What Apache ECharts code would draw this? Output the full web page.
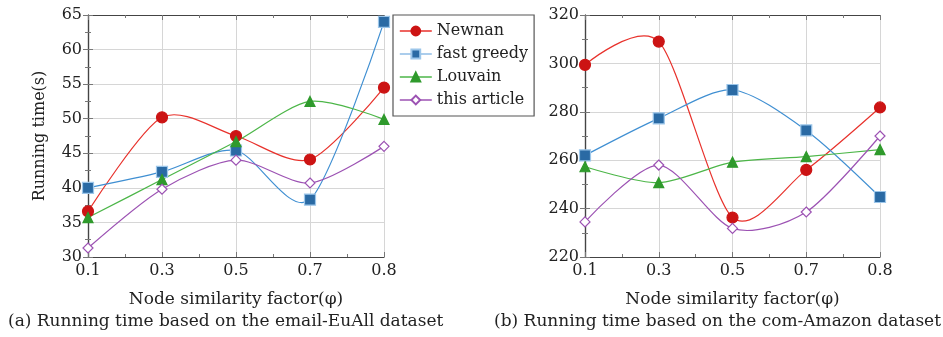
<!DOCTYPE html>
<html>
<head>
<meta charset="utf-8">
<script src="https://cdn.jsdelivr.net/npm/echarts@6/dist/echarts.min.js"></script>
<style>
html,body{margin:0;padding:0;background:#fff;}
#chart{width:943px;height:337px;}
</style>
</head>
<body>
<div id="chart"></div>
<script>
// ---- data ----
const xLabels = ['0.1', '0.3', '0.5', '0.7', '0.8'];
const seriesNames = ['Newnan', 'fast greedy', 'Louvain', 'this article'];

// (a) email-EuAll
const emailNewnan = [36.6, 50.2, 47.5, 44.1, 54.5];
const emailFastGreedy = [40.0, 42.3, 45.4, 38.3, 64.0];
const emailLouvain = [35.7, 41.2, 46.7, 52.5, 49.9];
const emailThisArticle = [31.3, 39.8, 44.0, 40.7, 46.0];

// (b) com-Amazon
const amazonNewnan = [299.4, 309.0, 236.3, 256.0, 281.8];
const amazonFastGreedy = [262.0, 277.3, 289.0, 272.3, 244.8];
const amazonLouvain = [257.3, 250.7, 259.2, 261.5, 264.4];
const amazonThisArticle = [234.5, 258.0, 231.8, 238.6, 270.0];

const yTicksA = [30, 35, 40, 45, 50, 55, 60, 65];
const yTicksB = [220, 240, 260, 280, 300, 320];

const captionA = '(a) Running time based on the email-EuAll dataset';
const captionB = '(b) Running time based on the com-Amazon dataset';
const xName = 'Node similarity factor(\u03C6)';
const yName = 'Running time(s)';

// ---- styles ----
const FONT = 'DejaVu Serif';
const FS = 16;
const TENSION = 0.1375;
const styles = [
  {line: '#e8312b', legendLine: '#e8312b', fill: '#cc1414', border: '#cc1414', symbol: 'circle', size: 11},
  {line: '#3f8fd2', legendLine: '#8fbde6', fill: '#2a6aa4', border: '#9cc6ea', symbol: 'rect', size: 11},
  {line: '#4cb648', legendLine: '#4cb648', fill: '#2f9a2c', border: '#2f9a2c', symbol: 'triangle', size: 10},
  {line: '#9c52b3', legendLine: '#9c52b3', fill: '#ffffff', border: '#9c52b3', symbol: 'diamond', size: 10}
];

function pairs(arr) { return arr.map((v, i) => [i, v]); }

// smooth curve (TikZ-like) drawn through library coordinates
function mkCurve(name, arr, k, xi, yi) {
  const s = styles[k];
  return {
    name: name + ' curve', type: 'custom', data: pairs(arr), xAxisIndex: xi, yAxisIndex: yi,
    z: 2, silent: true,
    renderItem: function (params, api) {
      const i = params.dataIndex;
      const n = arr.length;
      if (i >= n - 1) return null;
      const P = arr.map((v, j) => api.coord([j, v]));
      const p0 = P[i], p1 = P[i + 1];
      let c1 = p0.slice(), c2 = p1.slice();
      if (i > 0) {
        c1 = [p0[0] + TENSION * (P[i + 1][0] - P[i - 1][0]), p0[1] + TENSION * (P[i + 1][1] - P[i - 1][1])];
      }
      if (i + 2 < n) {
        c2 = [p1[0] - TENSION * (P[i + 2][0] - P[i][0]), p1[1] - TENSION * (P[i + 2][1] - P[i][1])];
      }
      return {
        type: 'bezierCurve',
        shape: {x1: p0[0], y1: p0[1], x2: p1[0], y2: p1[1], cpx1: c1[0], cpy1: c1[1], cpx2: c2[0], cpy2: c2[1]},
        style: {stroke: s.line, lineWidth: 1.2, fill: null}
      };
    }
  };
}

function mkMarkers(name, arr, k, xi, yi) {
  const s = styles[k];
  return {
    name: name, type: 'line', data: pairs(arr), xAxisIndex: xi, yAxisIndex: yi,
    symbol: s.symbol, symbolSize: s.size, showSymbol: true,
    lineStyle: {color: s.line, width: 1.2, opacity: 0},
    itemStyle: {color: s.fill, borderColor: s.border, borderWidth: 1.2},
    z: 5 + k
  };
}

const axisLineStyle = {show: true, lineStyle: {color: '#444', width: 1.2}};
const tickStyle = {show: true, inside: true, length: 5, lineStyle: {color: '#777'}};
const minorStyle = {show: true, splitNumber: 2, length: 3, lineStyle: {color: '#777'}};

function xAxes(gi) {
  return [
    {
      gridIndex: gi, type: 'value', min: 0, max: xLabels.length - 1, interval: 1,
      position: 'bottom',
      axisLine: axisLineStyle, axisTick: tickStyle, minorTick: minorStyle,
      splitLine: {show: true, lineStyle: {color: '#d6d6d6', width: 1}},
      axisLabel: {formatter: v => xLabels[v] || '', fontFamily: FONT, fontSize: FS, color: '#222', margin: 6},
      name: xName, nameLocation: 'middle', nameGap: 34,
      nameTextStyle: {fontFamily: FONT, fontSize: 17, color: '#222'}
    },
    {
      gridIndex: gi, type: 'value', min: 0, max: xLabels.length - 1, interval: 1,
      position: 'top',
      axisLine: axisLineStyle, axisTick: tickStyle, minorTick: minorStyle,
      splitLine: {show: false}, axisLabel: {show: false}
    }
  ];
}

function yAxes(gi, ticks, withName) {
  const min = ticks[0], max = ticks[ticks.length - 1], iv = ticks[1] - ticks[0];
  const left = {
    gridIndex: gi, type: 'value', min: min, max: max, interval: iv, position: 'left',
    axisLine: axisLineStyle, axisTick: tickStyle, minorTick: minorStyle,
    splitLine: {show: true, lineStyle: {color: '#d6d6d6', width: 1}},
    axisLabel: {fontFamily: FONT, fontSize: FS, color: '#222', margin: 6}
  };
  if (withName) {
    left.name = yName; left.nameLocation = 'middle'; left.nameGap = 40; left.nameRotate = 90;
    left.nameTextStyle = {fontFamily: FONT, fontSize: FS, color: '#222'};
  }
  return [left, {
    gridIndex: gi, type: 'value', min: min, max: max, interval: iv, position: 'right',
    axisLine: axisLineStyle, axisTick: tickStyle, minorTick: minorStyle,
    splitLine: {show: false}, axisLabel: {show: false}
  }];
}

const chart = echarts.init(document.getElementById('chart'), null, {renderer: 'canvas'});
const option = {
  animation: false,
  backgroundColor: '#fff',
  grid: [
    {left: 88, top: 15, width: 296, height: 242},
    {left: 585, top: 15, width: 295, height: 242}
  ],
  xAxis: [...xAxes(0), ...xAxes(1)],
  yAxis: [...yAxes(0, yTicksA, true), ...yAxes(1, yTicksB, false)],
  legend: {
    data: seriesNames.map((n, k) => ({
      name: n,
      lineStyle: {color: styles[k].legendLine, width: 1.6, opacity: 1}
    })),
    orient: 'vertical', left: 393, top: 15,
    itemWidth: 32, itemHeight: 11, itemGap: 5,
    padding: [7, 6, 7, 6],
    borderColor: '#555', borderWidth: 1.2, backgroundColor: '#fff',
    textStyle: {fontFamily: FONT, fontSize: FS, color: '#222', lineHeight: 18}
  },
  graphic: [
    {type: 'text', left: 8, top: 313, style: {text: captionA, font: '17px "' + FONT + '"', fill: '#222'}},
    {type: 'text', right: 2, top: 313, style: {text: captionB, font: '17px "' + FONT + '"', fill: '#222'}}
  ],
  series: [
    mkCurve(seriesNames[0], emailNewnan, 0, 0, 0),
    mkCurve(seriesNames[1], emailFastGreedy, 1, 0, 0),
    mkCurve(seriesNames[2], emailLouvain, 2, 0, 0),
    mkCurve(seriesNames[3], emailThisArticle, 3, 0, 0),
    mkCurve(seriesNames[0], amazonNewnan, 0, 2, 2),
    mkCurve(seriesNames[1], amazonFastGreedy, 1, 2, 2),
    mkCurve(seriesNames[2], amazonLouvain, 2, 2, 2),
    mkCurve(seriesNames[3], amazonThisArticle, 3, 2, 2),
    mkMarkers(seriesNames[0], emailNewnan, 0, 0, 0),
    mkMarkers(seriesNames[1], emailFastGreedy, 1, 0, 0),
    mkMarkers(seriesNames[2], emailLouvain, 2, 0, 0),
    mkMarkers(seriesNames[3], emailThisArticle, 3, 0, 0),
    mkMarkers(seriesNames[0], amazonNewnan, 0, 2, 2),
    mkMarkers(seriesNames[1], amazonFastGreedy, 1, 2, 2),
    mkMarkers(seriesNames[2], amazonLouvain, 2, 2, 2),
    mkMarkers(seriesNames[3], amazonThisArticle, 3, 2, 2)
  ]
};
chart.setOption(option);
</script>
</body>
</html>
